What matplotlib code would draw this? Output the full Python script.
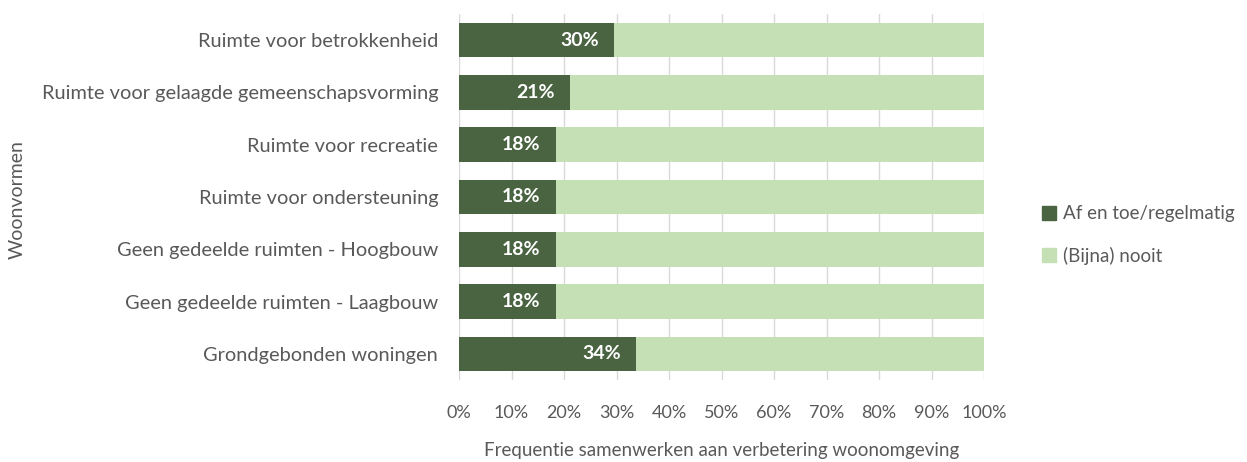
import matplotlib
matplotlib.use("Agg")
import matplotlib.pyplot as plt
from matplotlib.patches import Patch
import numpy as np

categories = [
    "Ruimte voor betrokkenheid",
    "Ruimte voor gelaagde gemeenschapsvorming",
    "Ruimte voor recreatie",
    "Ruimte voor ondersteuning",
    "Geen gedeelde ruimten - Hoogbouw",
    "Geen gedeelde ruimten - Laagbouw",
    "Grondgebonden woningen",
]
af_en_toe = [29.5, 21.1, 18.4, 18.4, 18.4, 18.4, 33.8]
nooit = [100 - v for v in af_en_toe]
labels = ["30%", "21%", "18%", "18%", "18%", "18%", "34%"]
series_names = ["Af en toe/regelmatig", "(Bijna) nooit"]
xticks = list(range(0, 101, 10))
xticklabels = [f"{t}%" for t in xticks]

DARK = "#4a6442"
LIGHT = "#c5e0b4"
GRAY = "#595959"
FONT = "Lato"
FS = 14

plt.rcParams["font.family"] = [FONT, "DejaVu Sans"]

fig = plt.figure(figsize=(12.47, 4.62), dpi=100)
ax = fig.add_axes([459/1247, 1-380/462, (984-459)/1247, (380-14)/462])

y = np.arange(len(categories))[::-1]
ax.barh(y, af_en_toe, height=0.66, color=DARK, zorder=3)
ax.barh(y, nooit, left=af_en_toe, height=0.66, color=LIGHT, zorder=3)

for yi, v, lab in zip(y, af_en_toe, labels):
    ax.annotate(lab, xy=(v, yi), xytext=(-11, 0), textcoords="offset points",
                ha="right", va="center", color="white", fontweight="bold",
                fontsize=FS, zorder=4)

ax.set_xlim(0, 100)
ax.set_ylim(-0.5, len(categories) - 0.5)
ax.set_xticks(xticks)
ax.set_xticklabels(xticklabels, color=GRAY, fontsize=13)
ax.set_yticks(y)
ax.set_yticklabels(categories, color=GRAY, fontsize=14.4)
ax.tick_params(axis="both", length=0)
ax.tick_params(axis="y", pad=15)
ax.tick_params(axis="x", pad=18)
ax.grid(axis="x", color="#d9d9d9", linewidth=1, zorder=0)
for s in ax.spines.values():
    s.set_visible(False)

ax.set_xlabel("Frequentie samenwerken aan verbetering woonomgeving",
              color=GRAY, fontsize=13.5, labelpad=15)
fig.text(17/1247, 1-200/462, "Woonvormen", rotation=90, color=GRAY,
         fontsize=14, ha="center", va="center")

handles = [Patch(color=DARK), Patch(color=LIGHT)]
fig.legend(handles, series_names, loc="center left",
           bbox_to_anchor=(1042/1247, 1-235/462), frameon=False,
           borderaxespad=0, borderpad=0,
           fontsize=13.5, labelcolor=GRAY, handlelength=0.75, handleheight=0.75,
           handletextpad=0.35, labelspacing=1.3)

fig.savefig("out.png", dpi=100)
